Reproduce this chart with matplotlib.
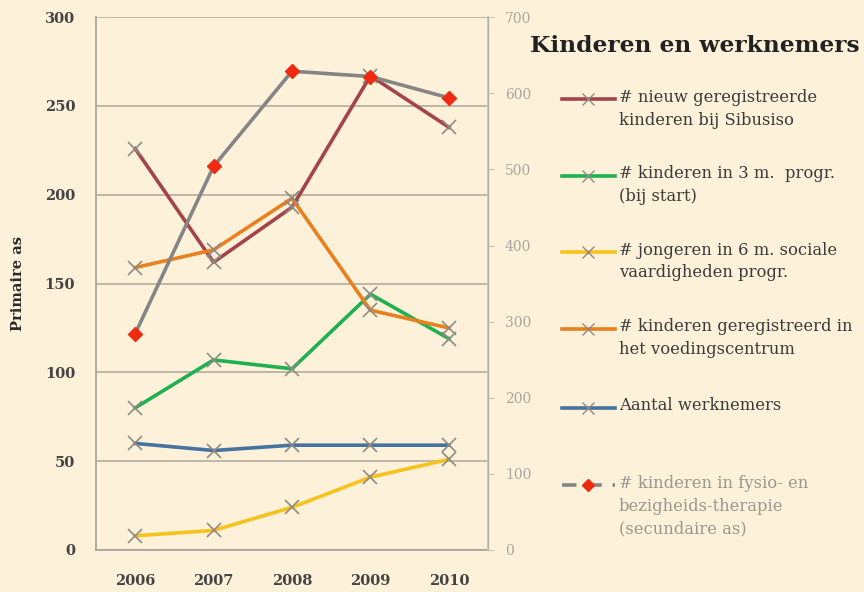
import matplotlib.pyplot as plt
from matplotlib.lines import Line2D

years = ['2006', '2007', '2008', '2009', '2010']

# primary axis series
nieuw_geregistreerd = [226, 162, 193, 267, 238]
drie_maanden = [80, 107, 102, 144, 119]
zes_maanden = [8, 11, 24, 41, 51]
voedingscentrum = [159, 169, 198, 135, 125]
werknemers = [60, 56, 59, 59, 59]

# secondary axis series
therapie = [284, 504, 629, 622, 594]

primary_ticks = [0, 50, 100, 150, 200, 250, 300]
secondary_ticks = [0, 100, 200, 300, 400, 500, 600, 700]

labels = [
    '# nieuw geregistreerde\nkinderen bij Sibusiso',
    '# kinderen in 3 m.  progr.\n(bij start)',
    '# jongeren in 6 m. sociale\nvaardigheden progr.',
    '# kinderen geregistreerd in\nhet voedingscentrum',
    'Aantal werknemers',
    '# kinderen in fysio- en\nbezigheids-therapie\n(secundaire as)',
]
colors = ['#a5434c', '#1fb050', '#f6c21c', '#e8801f', '#44739f', '#858585']

BG = '#fdf2d9'
SERIF = ['DejaVu Serif']


def main():
    plt.rcParams['font.family'] = SERIF
    fig = plt.figure(figsize=(8.64, 5.92), dpi=100, facecolor=BG)
    ax = fig.add_axes([0.111, 0.071, 0.454, 0.900])
    ax.set_facecolor(BG)
    ax2 = ax.twinx()

    x = range(len(years))
    series = [nieuw_geregistreerd, drie_maanden, zes_maanden,
              voedingscentrum, werknemers]
    for vals, c in zip(series, colors[:5]):
        ax.plot(x, vals, color=c, lw=2.6, marker='x', markersize=10,
                markeredgecolor='#8f8a84', markeredgewidth=1.2, zorder=3)

    ax2.plot(x, therapie, color=colors[5], lw=2.6, zorder=3)
    ax2.plot(x, therapie, linestyle='none', marker='D', markersize=7,
             color='#ee2a10', zorder=4)

    ax.set_xlim(-0.5, 4.5)
    ax.set_ylim(0, 300)
    ax2.set_ylim(0, 700)
    ax.set_xticks(list(x))
    ax.set_xticklabels(years)
    ax.set_yticks(primary_ticks)
    ax2.set_yticks(secondary_ticks)

    ax.grid(axis='y', color='#bab2a2', lw=1.3)
    ax.set_axisbelow(True)
    ax.spines['top'].set_visible(False)
    ax2.spines['top'].set_visible(False)
    ax.spines['left'].set_color('#aaa59c')
    ax.spines['bottom'].set_color('#aaa59c')
    ax.spines['left'].set_linewidth(1.3)
    ax.spines['bottom'].set_linewidth(1.3)
    ax2.spines['left'].set_visible(False)
    ax2.spines['bottom'].set_visible(False)
    ax2.spines['right'].set_color('#c8c2b6')
    ax2.spines['right'].set_linewidth(1.3)

    ax.tick_params(axis='y', length=0, pad=15, labelsize=10.5,
                   labelcolor='#444444')
    ax.tick_params(axis='x', length=0, pad=17, labelsize=10.5,
                   labelcolor='#444444')
    ax2.tick_params(axis='y', length=4, color='#c8c2b6', pad=8,
                    labelsize=10, labelcolor='#aaa6a0')
    for lab in ax.get_xticklabels() + ax.get_yticklabels():
        lab.set_fontweight('bold')

    ax.set_ylabel('Primaire as', fontsize=10.5, color='#2a2a2a',
                  fontweight='bold', labelpad=14)

    # title and legend on the right
    fig.text(0.614, 0.923, 'Kinderen en werknemers', fontsize=16.8,
             fontweight='bold', color='#222222', va='center')

    entry_y = [0.832, 0.703, 0.574, 0.444, 0.311, 0.180]
    for lab, c, y, i in zip(labels, colors, entry_y, range(6)):
        if i < 5:
            fig.add_artist(Line2D([0.650, 0.712], [y, y], color=c, lw=2.6,
                                  transform=fig.transFigure))
            fig.add_artist(Line2D([0.681], [y], marker='x', markersize=9,
                                  markeredgecolor='#8f8a84', lw=0,
                                  transform=fig.transFigure))
            tcolor = '#3a3a3a'
        else:
            fig.add_artist(Line2D([0.650, 0.712], [y, y], color=c, lw=2.6,
                                  linestyle=(0, (4, 3)),
                                  transform=fig.transFigure))
            fig.add_artist(Line2D([0.681], [y], marker='D', markersize=6,
                                  color='#ee2a10', lw=0,
                                  transform=fig.transFigure))
            tcolor = '#9a9690'
        fig.text(0.716, y + 0.018, lab, fontsize=11.8, color=tcolor,
                 va='top', linespacing=1.45)

    fig.savefig('out.png', dpi=100, facecolor=BG)


if __name__ == "__main__":
    main()
